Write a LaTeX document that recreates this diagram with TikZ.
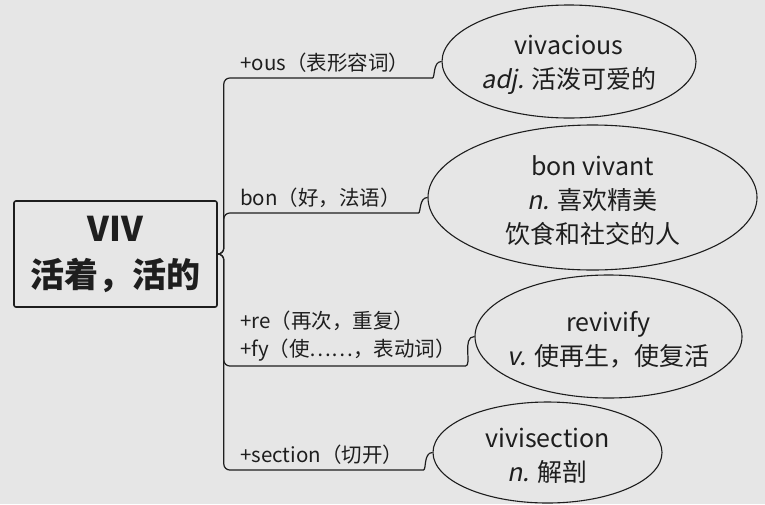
\documentclass[tikz,border=0pt]{standalone}
\usepackage{fontspec}
\setmainfont{Noto Sans CJK SC}[AutoFakeSlant=0.2]
\usepackage{xcolor}
\usetikzlibrary{shapes.geometric}
\definecolor{bgcol}{RGB}{230,230,230}
\definecolor{inkcol}{RGB}{30,30,30}

\begin{document}
\begin{tikzpicture}[x=1pt, y=-1pt,
  root/.style={draw=inkcol, line width=1.6pt, rounded corners=2pt, minimum width=203pt, minimum height=106pt, align=center, text=inkcol, font=\fontsize{34}{46}\selectfont\bfseries},
  affix/.style={anchor=south west, inner xsep=4pt, inner ysep=5pt, align=left, text=inkcol, font=\fontsize{20.5}{28}\selectfont},
  word/.style={ellipse, draw=inkcol, line width=1.1pt, inner sep=0pt},
  gloss/.style={align=center, yshift=-3pt, text=inkcol, font=\fontsize{25}{34}\selectfont},
  branch/.style={draw=inkcol, line width=1.2pt, rounded corners=6pt}
]
\fill[bgcol] (0,0) rectangle (765,504);
\useasboundingbox (0,0) rectangle (765,504);

\node[root] (viv) at (115.5,254) {VIV\\活着，活的};

% affixes along the branches
\node[affix] (ous) at (236,78) {+ous（表形容词）};
\node[affix] (bon) at (236,213) {bon（好，法语）};
\node[affix] (refy) at (236,366) {+re（再次，重复）\\+fy（使⋯⋯，表动词）};
\node[affix] (sect) at (236,470) {+section（切开）};

% words
\node[word, minimum width=254pt, minimum height=113pt] (vivacious) at (569,61.5) {};
\node[gloss] (vivacious-t) at (vivacious) {vivacious\\\textit{adj.} 活泼可爱的};
\node[word, minimum width=329pt, minimum height=145pt] (bonvivant) at (592.5,197.5) {};
\node[gloss] (bonvivant-t) at (bonvivant) {bon vivant\\\textit{n.} 喜欢精美\\饮食和社交的人};
\node[word, minimum width=267pt, minimum height=123pt] (revivify) at (608.5,336.5) {};
\node[gloss] (revivify-t) at (revivify) {revivify\\\textit{v.} 使再生，使复活};
\node[word, minimum width=229pt, minimum height=101pt] (vivisection) at (547.5,452.5) {};
\node[gloss] (vivisection-t) at (vivisection) {vivisection\\\textit{n.} 解剖};

\draw[branch] (viv.east) -- ++(6,0) |- (ous.south west) -- ([xshift=-15pt]vivacious.west |- ous.south) to[out=0,in=180] (vivacious.west);
\draw[branch] (viv.east) -- ++(6,0) |- (bon.south west) -- ([xshift=-15pt]bonvivant.west |- bon.south) to[out=0,in=180] (bonvivant.west);
\draw[branch] (viv.east) -- ++(6,0) |- (refy.south west) -- ([xshift=-15pt]revivify.west |- refy.south) to[out=0,in=180] (revivify.west);
\draw[branch] (viv.east) -- ++(6,0) |- (sect.south west) -- ([xshift=-15pt]vivisection.west |- sect.south) to[out=0,in=180] (vivisection.west);
\end{tikzpicture}
\end{document}
